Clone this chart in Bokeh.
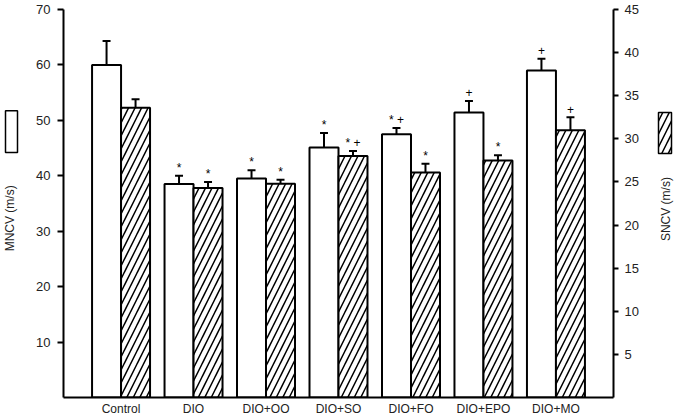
import math
from bokeh.plotting import figure
from bokeh.layouts import row
from bokeh.models import (Range1d, LinearAxis, FixedTicker, FactorRange,
                          ColumnDataSource)
from bokeh.transform import dodge
from bokeh.embed import file_html
from bokeh.resources import INLINE
from bokeh.core.properties import value

categories = ["Control", "DIO", "DIO+OO", "DIO+SO", "DIO+FO", "DIO+EPO", "DIO+MO"]
mncv = [60.0, 38.5, 39.5, 45.1, 47.5, 51.4, 59.0]
mncv_err = [4.3, 1.5, 1.5, 2.6, 1.1, 2.1, 2.1]
sncv = [33.6, 24.3, 24.8, 28.0, 26.1, 27.5, 31.0]
sncv_err = [1.0, 0.7, 0.45, 0.6, 1.0, 0.6, 1.5]
mncv_marks = ["", "*", "*", "*", "* +", "+", "+"]
sncv_marks = ["", "*", "*", "* +", "*", "*", "+"]
left_ticks = [10, 20, 30, 40, 50, 60, 70]
right_ticks = [5, 10, 15, 20, 25, 30, 35, 40, 45]
left_title = "MNCV (m/s)"
right_title = "SNCV (m/s)"

FONT = "Liberation Sans"
H = 418
LW, MW, RW = 22, 621, 31

src = ColumnDataSource(dict(
    cat=categories,
    mncv=mncv,
    mncv_top=[v + e for v, e in zip(mncv, mncv_err)],
    mncv_mark=mncv_marks,
    sncv=sncv,
    sncv_top=[v + e for v, e in zip(sncv, sncv_err)],
    sncv_mark=sncv_marks,
))


def side_fig(x0, w):
    f = figure(x_range=Range1d(x0, x0 + w), y_range=Range1d(H, 0),
               width=w, height=H, output_backend="svg", toolbar_location=None,
               x_axis_location=None, y_axis_location=None,
               min_border_left=0, min_border_right=0,
               min_border_top=0, min_border_bottom=0)
    f.outline_line_color = None
    f.xgrid.grid_line_color = None
    f.ygrid.grid_line_color = None
    return f


# ---- main chart ----
p = figure(x_range=FactorRange(*categories, range_padding=0.084),
           y_range=Range1d(0, 70),
           width=MW, height=H,
           output_backend="svg", toolbar_location=None,
           min_border_left=41, min_border_right=30,
           min_border_top=9, min_border_bottom=20)
p.extra_y_ranges = {"right": Range1d(0, 45)}
p.outline_line_color = None
p.xgrid.grid_line_color = None
p.ygrid.grid_line_color = None

yl = p.yaxis[0]
yl.ticker = FixedTicker(ticks=left_ticks)
yr = LinearAxis(y_range_name="right", ticker=FixedTicker(ticks=right_ticks))
p.add_layout(yr, "right")

for ax in (yl, yr):
    ax.axis_line_width = 2
    ax.axis_line_color = "black"
    ax.major_tick_line_width = 2
    ax.major_tick_line_color = "black"
    ax.major_tick_out = 6
    ax.major_tick_in = 0
    ax.minor_tick_line_color = None
    ax.major_label_text_font = FONT
    ax.major_label_text_font_size = "13px"
    ax.major_label_text_color = "#222222"
    ax.major_label_standoff = 7
yr.major_tick_out = 5
yr.major_label_standoff = 6

xa = p.xaxis[0]
xa.axis_line_width = 2
xa.axis_line_color = "black"
xa.major_tick_line_color = None
xa.major_tick_out = 0
xa.major_tick_in = 0
xa.minor_tick_line_color = None
xa.major_label_text_font = FONT
xa.major_label_text_font_size = "12px"
xa.major_label_text_color = "#222222"
xa.major_label_standoff = 4

p.vbar(x=dodge("cat", -0.2, range=p.x_range), top="mncv", width=0.4, source=src,
       fill_color="white", line_color="black", line_width=2)
p.vbar(x=dodge("cat", 0.2, range=p.x_range), top="sncv", width=0.4, source=src,
       y_range_name="right", fill_color="white", line_color="black", line_width=2,
       hatch_pattern="right_diagonal_line", hatch_color="black",
       hatch_weight=1.5, hatch_scale=13)

for off, col, top, rng in ((-0.2, "mncv", "mncv_top", "default"),
                           (0.2, "sncv", "sncv_top", "right")):
    p.segment(x0=dodge("cat", off, range=p.x_range), y0=col,
              x1=dodge("cat", off, range=p.x_range), y1=top,
              source=src, y_range_name=rng, line_color="black", line_width=2)
    p.segment(x0=dodge("cat", off - 0.055, range=p.x_range), y0=top,
              x1=dodge("cat", off + 0.055, range=p.x_range), y1=top,
              source=src, y_range_name=rng, line_color="black", line_width=2)

p.text(x=dodge("cat", -0.2, range=p.x_range), y="mncv_top", text="mncv_mark",
       source=src, text_align="center", text_baseline="alphabetic", y_offset=-8,
       text_font=value(FONT), text_font_size="12px", text_color="black")
p.text(x=dodge("cat", 0.2, range=p.x_range), y="sncv_top", text="sncv_mark",
       source=src, y_range_name="right", text_align="center",
       text_baseline="alphabetic", y_offset=-8,
       text_font=value(FONT), text_font_size="12px", text_color="black")

# ---- left strip: legend box + axis title ----
lf = side_fig(0, LW)
lf.quad(left=5, right=17, top=109, bottom=154, fill_color="white",
        line_color="black", line_width=1.5)
lf.text(x=[9], y=[225], text=[left_title], angle=math.pi / 2,
        text_align="center", text_baseline="middle",
        text_font=value(FONT), text_font_size="12px", text_color="#222222")

# ---- right strip: legend box + axis title ----
x0r = LW + MW
rf = side_fig(x0r, RW)
rf.quad(left=658, right=671, top=111, bottom=155, fill_color="white",
        line_color="black", line_width=1.5,
        hatch_pattern="right_diagonal_line", hatch_color="black",
        hatch_weight=1.5, hatch_scale=13)
rf.text(x=[665], y=[215], text=[right_title], angle=math.pi / 2,
        text_align="center", text_baseline="middle",
        text_font=value(FONT), text_font_size="12px", text_color="#222222")

layout = row(lf, p, rf, spacing=0)
open("out.html", "w").write(file_html(layout, INLINE))
